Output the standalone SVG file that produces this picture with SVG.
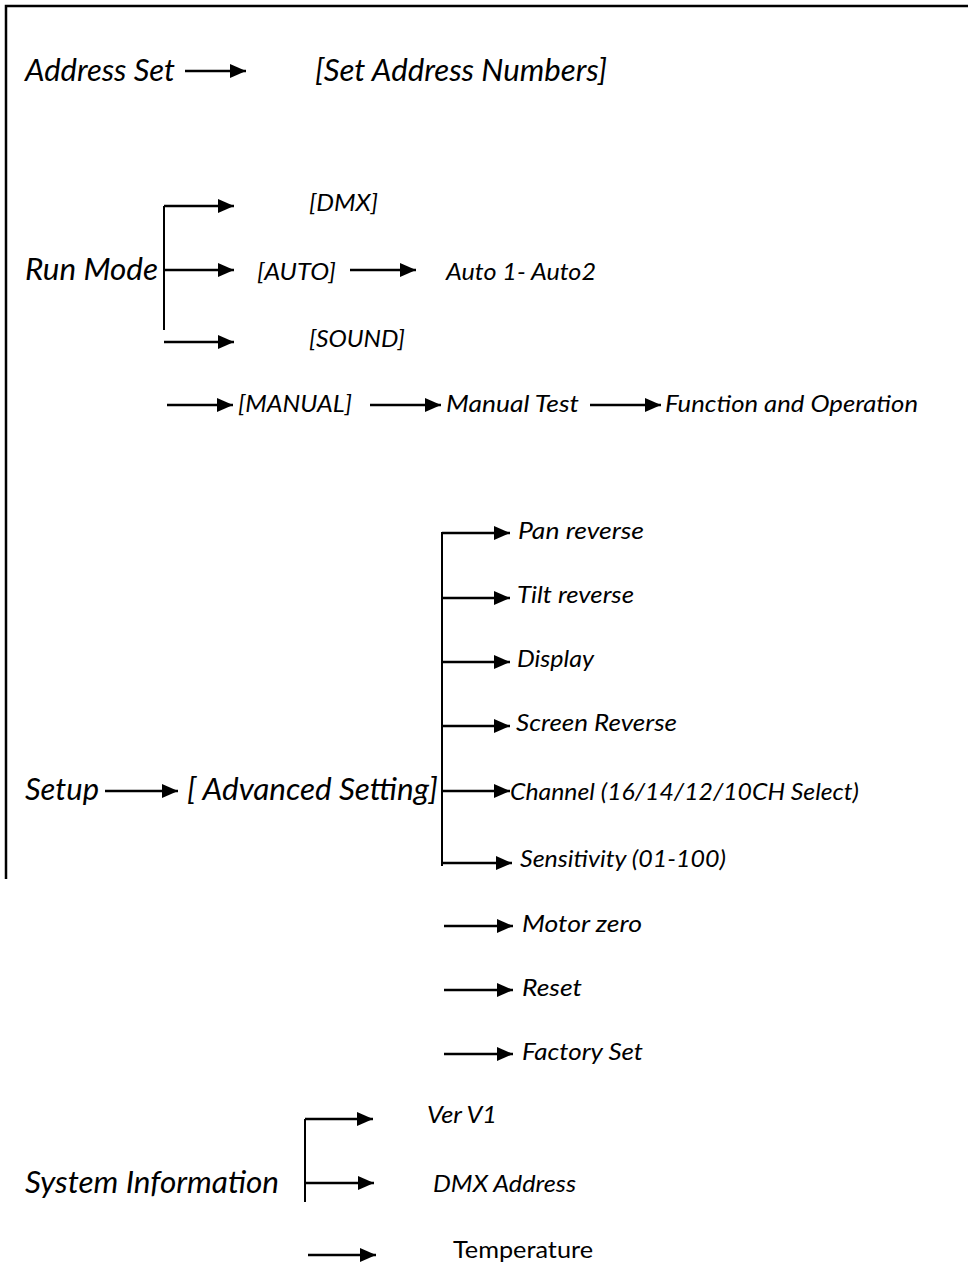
<svg xmlns="http://www.w3.org/2000/svg" width="968" height="1264" viewBox="0 0 968 1264">
<defs>
<marker id="ah" markerUnits="userSpaceOnUse" markerWidth="18" markerHeight="16" refX="17" refY="8" orient="auto">
<path d="M1,1 L17,8 L1,15 Z" fill="#000"/>
</marker>
<style>
.t{font-family:Lato,"Open Sans","Liberation Sans",sans-serif;font-style:italic;fill:#000}
.b{font-size:31px}
.s{font-size:24px}
.u{font-family:Lato,"Open Sans","Liberation Sans",sans-serif;font-size:23px;fill:#000}
.c{stroke:#000;stroke-width:2;fill:none}
.a{stroke:#000;stroke-width:2.5;fill:none;marker-end:url(#ah)}
</style>
</defs>
<rect width="968" height="1264" fill="#fff"/>
<g id="frame" class="c">
<path d="M6,879 V6 H968" stroke-width="2.5"/>
</g>
<g id="connectors">
<line class="a" x1="185" y1="71" x2="246" y2="71"/>
<path class="c" d="M164,206 V330"/>
<line class="a" x1="164" y1="206" x2="234" y2="206"/>
<line class="a" x1="164" y1="270" x2="234" y2="270"/>
<line class="a" x1="164" y1="342" x2="234" y2="342"/>
<line class="a" x1="350" y1="270" x2="416" y2="270"/>
<line class="a" x1="167" y1="405" x2="233" y2="405"/>
<line class="a" x1="370" y1="405" x2="441" y2="405"/>
<line class="a" x1="590" y1="405" x2="661" y2="405"/>
<line class="a" x1="105" y1="791" x2="178" y2="791"/>
<path class="c" d="M442,532 V866"/>
<line class="a" x1="442" y1="533" x2="510" y2="533"/>
<line class="a" x1="442" y1="598" x2="510" y2="598"/>
<line class="a" x1="442" y1="662" x2="510" y2="662"/>
<line class="a" x1="442" y1="726" x2="510" y2="726"/>
<line class="a" x1="442" y1="791" x2="510" y2="791"/>
<line class="a" x1="443" y1="863" x2="512" y2="863"/>
<line class="a" x1="444" y1="926" x2="513" y2="926"/>
<line class="a" x1="444" y1="990" x2="513" y2="990"/>
<line class="a" x1="444" y1="1054" x2="513" y2="1054"/>
<path class="c" d="M305,1119 V1202"/>
<line class="a" x1="305" y1="1119" x2="373" y2="1119"/>
<line class="a" x1="305" y1="1183" x2="374" y2="1183"/>
<line class="a" x1="308" y1="1255" x2="376" y2="1255"/>
</g>
<g id="address-set"><text class="t b" x="25" y="81" textLength="150" lengthAdjust="spacingAndGlyphs">Address Set</text></g>
<g id="set-address-numbers"><text class="t b" x="315" y="81" textLength="292" lengthAdjust="spacingAndGlyphs">[Set Address Numbers]</text></g>
<g id="run-mode"><text class="t b" x="25" y="280" textLength="133" lengthAdjust="spacingAndGlyphs">Run Mode</text></g>
<g id="dmx"><text class="t s" x="309" y="211" textLength="69" lengthAdjust="spacingAndGlyphs">[DMX]</text></g>
<g id="auto"><text class="t s" x="257" y="280" textLength="79" lengthAdjust="spacingAndGlyphs">[AUTO]</text></g>
<g id="auto12"><text class="t s" x="446" y="280" textLength="150" lengthAdjust="spacingAndGlyphs">Auto 1- Auto2</text></g>
<g id="sound"><text class="t s" x="309" y="347" textLength="96" lengthAdjust="spacingAndGlyphs">[SOUND]</text></g>
<g id="manual"><text class="t s" x="238" y="412" textLength="114" lengthAdjust="spacingAndGlyphs">[MANUAL]</text></g>
<g id="manual-test"><text class="t s" x="446" y="412" textLength="133" lengthAdjust="spacingAndGlyphs">Manual Test</text></g>
<g id="function-operation"><text class="t s" x="665" y="412" textLength="253" lengthAdjust="spacingAndGlyphs">Function and Operation</text></g>
<g id="setup"><text class="t b" x="25" y="800" textLength="74" lengthAdjust="spacingAndGlyphs">Setup</text></g>
<g id="advanced-setting"><text class="t b" x="187" y="800" textLength="251" lengthAdjust="spacingAndGlyphs">[ Advanced Setting]</text></g>
<g id="pan-reverse"><text class="t s" x="518" y="539" textLength="126" lengthAdjust="spacingAndGlyphs">Pan reverse</text></g>
<g id="tilt-reverse"><text class="t s" x="517" y="603" textLength="117" lengthAdjust="spacingAndGlyphs">Tilt reverse</text></g>
<g id="display"><text class="t s" x="517" y="667" textLength="77" lengthAdjust="spacingAndGlyphs">Display</text></g>
<g id="screen-reverse"><text class="t s" x="516" y="731" textLength="161" lengthAdjust="spacingAndGlyphs">Screen Reverse</text></g>
<g id="channel"><text class="t s" x="510" y="800" textLength="349" lengthAdjust="spacingAndGlyphs">Channel (16/14/12/10CH Select)</text></g>
<g id="sensitivity"><text class="t s" x="520" y="867" textLength="206" lengthAdjust="spacingAndGlyphs">Sensitivity (01-100)</text></g>
<g id="motor-zero"><text class="t s" x="522" y="932" textLength="120" lengthAdjust="spacingAndGlyphs">Motor zero</text></g>
<g id="reset"><text class="t s" x="522" y="996" textLength="60" lengthAdjust="spacingAndGlyphs">Reset</text></g>
<g id="factory-set"><text class="t s" x="522" y="1060" textLength="121" lengthAdjust="spacingAndGlyphs">Factory Set</text></g>
<g id="system-information"><text class="t b" x="25" y="1193" textLength="254" lengthAdjust="spacingAndGlyphs">System Information</text></g>
<g id="ver-v1"><text class="t s" x="427" y="1123" textLength="70" lengthAdjust="spacingAndGlyphs">Ver V1</text></g>
<g id="dmx-address"><text class="t s" x="433" y="1192" textLength="143" lengthAdjust="spacingAndGlyphs">DMX Address</text></g>
<g id="temperature"><text class="u" x="453" y="1258" textLength="140" lengthAdjust="spacingAndGlyphs">Temperature</text></g>
</svg>
